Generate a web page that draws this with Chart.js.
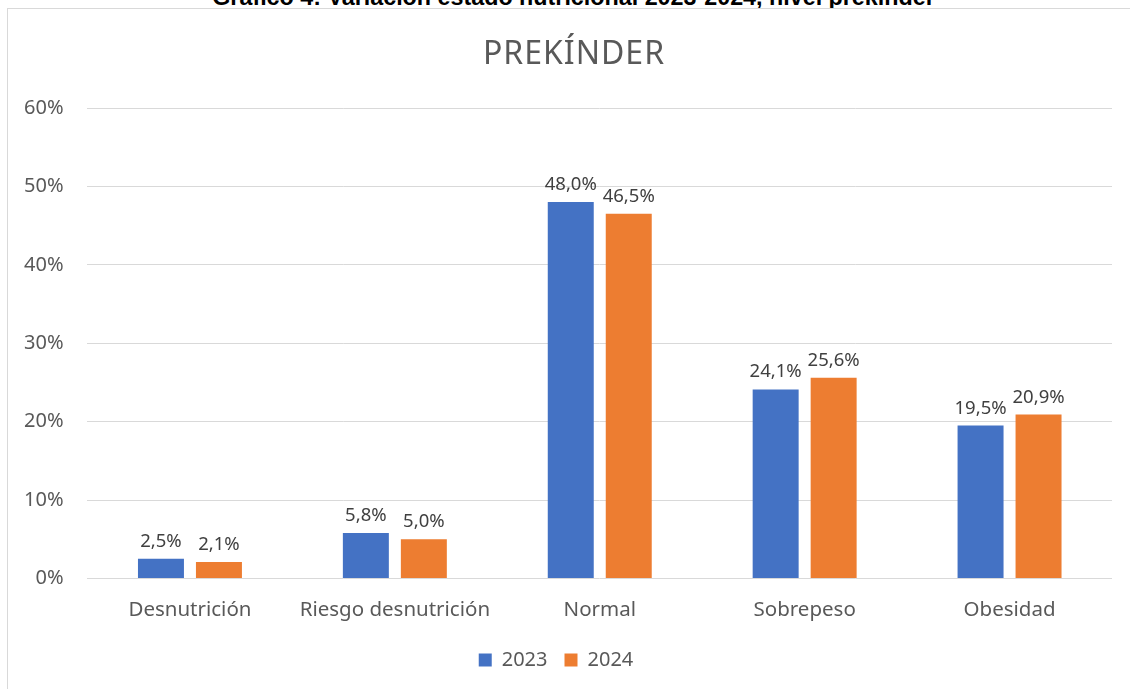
<!DOCTYPE html>
<html>
<head>
<meta charset="utf-8">
<script src="https://cdn.jsdelivr.net/npm/chart.js@4"></script>
<style>
  html, body { margin: 0; padding: 0; background: #fff; overflow: hidden; }
  #caption {
    position: absolute; left: 0; width: 1147px; top: -16px;
    text-align: center; font: bold 23.3px "Liberation Sans", Arial, sans-serif; color: #000;
  }
  #frame {
    position: absolute; left: 7px; top: 8px; width: 1140px; height: 700px;
    border: 1px solid #d9d9d9; background: #fff;
  }
  #wrap { position: absolute; left: 0; top: 0; width: 1130px; height: 689px; }
</style>
</head>
<body>
<div id="caption">Gráfico 4: Variación estado nutricional 2023-2024, nivel prekínder</div>
<div id="frame"></div>
<div id="wrap"><canvas id="chart" width="1130" height="689"></canvas></div>
<script>
const categories = ['Desnutrición', 'Riesgo desnutrición', 'Normal', 'Sobrepeso', 'Obesidad'];
const values2023 = [2.5, 5.8, 48.0, 24.1, 19.5];
const values2024 = [2.1, 5.0, 46.5, 25.6, 20.9];
const seriesNames = ['2023', '2024'];
const chartTitle = 'PREKÍNDER';

const fontFamily = '"Noto Sans", "Open Sans", sans-serif';

function pct(v, digits) {
    return v.toFixed(digits).replace('.', ',') + '%';
}

// draws the value above each bar
const valueLabels = {
    id: 'valueLabels',
    afterDatasetsDraw(chart) {
        const ctx = chart.ctx;
        ctx.save();
        ctx.font = '18.5px ' + fontFamily;
        ctx.fillStyle = '#404040';
        ctx.textAlign = 'center';
        ctx.textBaseline = 'bottom';
        chart.data.datasets.forEach((ds, i) => {
            chart.getDatasetMeta(i).data.forEach((bar, j) => {
                ctx.fillText(pct(ds.data[j], 1), bar.x, bar.y - 8);
            });
        });
        ctx.restore();
    }
};

// title centred on the whole frame, not the padded layout box
const frameTitle = {
    id: 'frameTitle',
    afterDraw(chart) {
        const ctx = chart.ctx;
        ctx.save();
        ctx.font = '32px ' + fontFamily;
        ctx.letterSpacing = '1px';
        ctx.fillStyle = '#595959';
        ctx.textAlign = 'center';
        ctx.textBaseline = 'alphabetic';
        ctx.fillText(chartTitle, 574, 64);
        ctx.restore();
    }
};

new Chart(document.getElementById('chart'), {
    type: 'bar',
    data: {
        labels: categories,
        datasets: [
            { label: seriesNames[0], data: values2023, backgroundColor: '#4472C4' },
            { label: seriesNames[1], data: values2024, backgroundColor: '#ED7D31' }
        ]
    },
    options: {
        responsive: false,
        animation: false,
        datasets: {
            bar: { categoryPercentage: 0.566, barPercentage: 0.793 }
        },
        layout: { padding: { top: 108, left: 0, right: 18, bottom: 9 } },
        scales: {
            x: {
                grid: { display: false },
                border: { display: false },
                ticks: { color: '#595959', font: { family: fontFamily, size: 20.5 }, padding: 11 }
            },
            y: {
                min: 0, max: 60,
                ticks: {
                    stepSize: 10,
                    color: '#595959',
                    font: { family: fontFamily, size: 20 },
                    padding: 24,
                    callback: v => v + '%'
                },
                grid: { color: '#d9d9d9', lineWidth: 1, drawTicks: false },
                border: { display: false }
            }
        },
        plugins: {
            title: { display: false },
            legend: {
                position: 'bottom',
                labels: {
                    color: '#595959',
                    font: { family: fontFamily, size: 20 },
                    boxWidth: 13, boxHeight: 13,
                    padding: 17
                }
            },
            tooltip: { enabled: false }
        }
    },
    plugins: [valueLabels, frameTitle]
});
</script>
</body>
</html>
